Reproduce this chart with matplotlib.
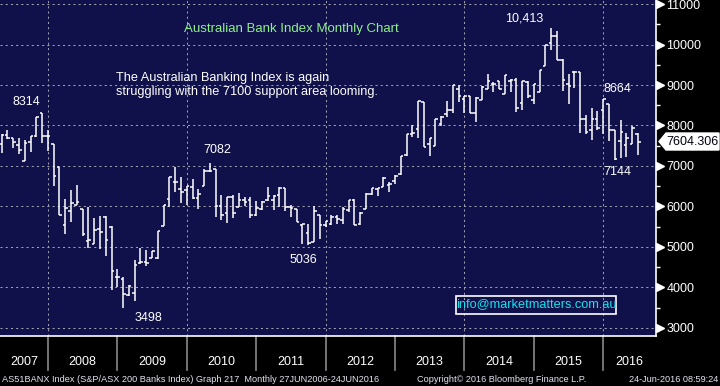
import matplotlib
matplotlib.use('Agg')
import matplotlib.pyplot as plt
import matplotlib.transforms as mtransforms
from matplotlib.patches import Polygon, Rectangle

# ---------------- data (monthly OHLC) ----------------
months = [
    '2007-04', '2007-05', '2007-06', '2007-07', '2007-08', '2007-09', '2007-10', '2007-11', '2007-12',
    '2008-01', '2008-02', '2008-03', '2008-04', '2008-05', '2008-06', '2008-07', '2008-08', '2008-09', '2008-10', '2008-11', '2008-12',
    '2009-01', '2009-02', '2009-03', '2009-04', '2009-05', '2009-06', '2009-07', '2009-08', '2009-09', '2009-10', '2009-11', '2009-12',
    '2010-01', '2010-02', '2010-03', '2010-04', '2010-05', '2010-06', '2010-07', '2010-08', '2010-09', '2010-10', '2010-11', '2010-12',
    '2011-01', '2011-02', '2011-03', '2011-04', '2011-05', '2011-06', '2011-07', '2011-08', '2011-09', '2011-10', '2011-11', '2011-12',
    '2012-01', '2012-02', '2012-03', '2012-04', '2012-05', '2012-06', '2012-07', '2012-08', '2012-09', '2012-10', '2012-11', '2012-12',
    '2013-01', '2013-02', '2013-03', '2013-04', '2013-05', '2013-06', '2013-07', '2013-08', '2013-09', '2013-10', '2013-11', '2013-12',
    '2014-01', '2014-02', '2014-03', '2014-04', '2014-05', '2014-06', '2014-07', '2014-08', '2014-09', '2014-10', '2014-11', '2014-12',
    '2015-01', '2015-02', '2015-03', '2015-04', '2015-05', '2015-06', '2015-07', '2015-08', '2015-09', '2015-10', '2015-11', '2015-12',
    '2016-01', '2016-02', '2016-03', '2016-04', '2016-05', '2016-06',
]
opens = [
    7550, 7760, 7680, 7527, 7135, 7600, 7730, 8310, 7730,
    7535, 6972, 5544, 5895, 6033, 5944, 5144, 5070, 5438, 5740, 5503, 4262,
    4205, 3805, 3854, 4602, 4618, 4715, 4715, 5512, 6177, 6597, 6424, 6400,
    6490, 6200, 6506, 6885, 6918, 6000, 5850, 6226, 5980, 6160, 6160, 5790,
    5940, 6150, 6150, 6290, 6460, 5990, 5940, 5550, 5340, 5120, 5795, 5530,
    5575, 5740, 5655, 5920, 6150, 5560, 5940, 6310, 6430, 6470, 6540, 6620,
    6800, 7270, 7800, 7910, 8580, 7540, 7490, 8030, 8290, 8390, 8900, 8660,
    8740, 8300, 8640, 8910, 9020, 9100, 8790, 9110, 9130, 8560, 9070, 8640,
    8830, 9460, 10030, 10200, 9620, 9030, 9320, 9320, 8150, 7890, 8150, 8390,
    8530, 7880, 7620, 7520, 7540, 7800,
]
highs = [
    7800, 7900, 7690, 7700, 7633, 7730, 8220, 8314, 7880,
    7535, 6972, 6180, 6409, 6523, 5944, 5985, 5723, 5764, 5756, 5527, 4450,
    4246, 4049, 4683, 4984, 4927, 4910, 5400, 6040, 6737, 6967, 6720, 6506,
    6670, 6424, 6930, 7082, 6918, 6284, 6243, 6284, 6325, 6226, 6226, 6144,
    6130, 6490, 6290, 6470, 6460, 6025, 5940, 5573, 5573, 6000, 5795, 5650,
    5800, 5780, 5985, 6165, 6190, 5860, 6330, 6460, 6460, 6740, 6600, 6770,
    7250, 7790, 8000, 8600, 8580, 7700, 8150, 8245, 8600, 9010, 9010, 8740,
    8740, 8710, 8970, 9260, 9070, 9110, 9240, 9160, 9180, 9090, 9110, 9030,
    9380, 10000, 10413, 10330, 9650, 9280, 9350, 9320, 8250, 8420, 8360, 8664,
    8530, 7880, 8140, 7820, 7980, 7820,
]
lows = [
    7320, 7665, 7445, 7306, 7127, 7347, 7715, 7567, 7363,
    6514, 5780, 5315, 5609, 6033, 5266, 4985, 5070, 4947, 4782, 3944, 4000,
    3498, 3789, 3667, 4585, 4536, 4715, 4700, 5512, 5980, 6366, 6078, 6037,
    6185, 5930, 6506, 6844, 5750, 5667, 5584, 5708, 5980, 6012, 5725, 5774,
    5918, 6140, 5918, 5980, 5900, 5740, 5614, 5065, 5036, 5120, 5200, 5500,
    5550, 5575, 5575, 5860, 5530, 5530, 5940, 6290, 6270, 6470, 6350, 6560,
    6780, 7250, 7720, 7700, 7475, 7250, 7490, 7990, 8210, 8310, 8580, 8300,
    8300, 8090, 8620, 8900, 8830, 8910, 8790, 8830, 8340, 8380, 8690, 8530,
    8830, 9460, 9870, 9620, 8850, 8540, 8930, 7820, 7800, 7650, 7880, 7800,
    7620, 7144, 7190, 7230, 7540, 7270,
]
closes = [
    7760, 7700, 7580, 7388, 7575, 7730, 8220, 7730, 7730,
    6743, 5780, 5960, 6090, 6100, 5315, 5168, 5430, 5380, 5168, 4417, 4246,
    3840, 4033, 4561, 4618, 4602, 4910, 5390, 6040, 6720, 6597, 6366, 6506,
    6200, 6300, 6885, 6885, 6021, 5800, 6226, 5830, 6160, 6120, 5790, 5955,
    6120, 6270, 6270, 6460, 5990, 5970, 5614, 5573, 5098, 5885, 5530, 5650,
    5740, 5700, 5940, 6150, 5530, 5835, 6310, 6460, 6460, 6700, 6550, 6760,
    7250, 7790, 7820, 8600, 7475, 7700, 8150, 8210, 8390, 8990, 8720, 8730,
    8300, 8690, 8950, 9110, 9020, 8910, 9240, 9130, 8440, 9090, 8720, 9030,
    9380, 10000, 10220, 9620, 9130, 8970, 9320, 8150, 7840, 8150, 7950, 8650,
    7880, 7160, 7840, 7700, 7950, 7604.306,
]
year_labels = ['2007', '2008', '2009', '2010', '2011', '2012', '2013', '2014', '2015', '2016']
y_ticks = [3000, 4000, 5000, 6000, 7000, 8000, 9000, 10000, 11000]
annotations = [('8314', 0.0396, 0.696), ('7082', 0.3316, 0.554), ('3498', 0.2256, 0.0545),
               ('5036', 0.4627, 0.2262), ('10,413', 0.7998, 0.9435), ('8664', 0.9405, 0.734),
               ('7144', 0.9405, 0.487)]

# ---------------- figure ----------------
W, H = 720, 386
plt.rcParams['font.family'] = ['Liberation Sans', 'DejaVu Sans']
fig = plt.figure(figsize=(W / 100, H / 100), dpi=100, facecolor='black')
ax_left, ax_right, ax_top, ax_bot = 0, 656, 0, 336
ax = fig.add_axes([ax_left / W, 1 - ax_bot / H, (ax_right - ax_left) / W, (ax_bot - ax_top) / H])
bg = '#10104a'
ax.set_facecolor(bg)

# month-end positions in fractional years
xs = [int(m[:4]) + int(m[5:]) / 12.0 for m in months]
xmin, xmax = 2007.31, 2016.76
ax.set_xlim(xmin, xmax)
ax.set_ylim(2800, 11100)

tick_w = 0.037
ax.vlines(xs, lows, highs, color='white', lw=1.1, zorder=3)
ax.hlines(opens, [x - tick_w for x in xs], xs, color='white', lw=1.1, zorder=3)
ax.hlines(closes, xs, [x + tick_w for x in xs], color='white', lw=1.1, zorder=3)

# grid
ax.set_yticks(y_ticks)
ax.set_yticks(list(range(3500, 11000, 1000)), minor=True)
ax.set_xticks([2008, 2010, 2012, 2014, 2016])
ax.set_xticklabels([])
ax.grid(True, which='major', color='#a0a0ac', lw=0.75, linestyle=(0, (2, 3)), zorder=1)
ax.tick_params(axis='x', length=0)
ax.yaxis.tick_right()
ax.tick_params(axis='y', which='major', length=0, pad=7.5, labelcolor='white', labelsize=9)
ax.tick_params(axis='y', which='minor', length=3, width=1, color='white', direction='out')
for sp in ['top', 'left']:
    ax.spines[sp].set_visible(False)
for sp in ['bottom', 'right']:
    ax.spines[sp].set_color('white')
    ax.spines[sp].set_linewidth(1.2)

# arrow markers at the major ticks
ybl = mtransforms.blended_transform_factory(ax.transAxes, ax.transData)
ax.plot([1.0 + 4 / 656] * len(y_ticks), y_ticks, linestyle='none', marker='>', ms=5.5,
        color='white', transform=ybl, clip_on=False, zorder=5)

# year labels and separators
xbl = mtransforms.blended_transform_factory(ax.transData, ax.transAxes)
for lab in year_labels:
    y0 = int(lab)
    c = (max(y0, xmin) + min(y0 + 1, xmax)) / 2
    ax.text(c, -26 / 336, lab, transform=xbl, ha='center', va='center', color='white', fontsize=9)
    if y0 > 2007:
        ax.plot([y0, y0], [0, -34 / 336], transform=xbl, color='#8a8a8a', lw=1.2, clip_on=False)

# texts
ax.text(0.444, 0.914, 'Australian Bank Index Monthly Chart', transform=ax.transAxes,
        ha='center', va='center', color='#8ef08e', fontsize=9.5)
ax.text(0.177, 0.747, 'The Australian Banking Index is again\nstruggling with the 7100 support area looming.',
        transform=ax.transAxes, ha='left', va='center', color='white', fontsize=9.2, linespacing=1.3)
for t, x, y in annotations:
    ax.text(x, y, t, transform=ax.transAxes, ha='center', va='center', color='white', fontsize=9)

# email box
ax.add_patch(Rectangle((456 / 656, (336 - 313.5) / 336), 160 / 656, 17.5 / 336, transform=ax.transAxes,
                       fill=False, ec='white', lw=1.2, zorder=6))
ax.text(536 / 656, (336 - 304.5) / 336, 'info@marketmatters.com.au', transform=ax.transAxes,
        ha='center', va='center', color='#19e3ee', fontsize=9.2, zorder=6)

# last price box
fig.canvas.draw()
last = closes[-1]
yp = ax.transData.transform((0, last))[1]
x0 = ax_right + 3
pts = [(x0, yp), (x0 + 7, yp + 8.5), (W - 1, yp + 8.5), (W - 1, yp - 8.5), (x0 + 7, yp - 8.5)]
fig.patches.append(Polygon([(px / W, py / (H)) for px, py in pts], closed=True, fc='white', ec='white',
                           transform=fig.transFigure, figure=fig))
fig.text((x0 + 7 + W - 1) / 2 / W, yp / H, f'{last:.3f}', ha='center', va='center',
         color='#000010', fontsize=9)

# footer
fc = '#e4e4f4'
fig.text(2 / W, 1 - 379 / H, 'AS51BANX Index (S&P/ASX 200 Banks Index) Graph 217  Monthly 27JUN2006-24JUN2016',
         ha='left', va='center', color=fc, fontsize=6.6)
fig.text(417 / W, 1 - 379 / H, 'Copyright\u00a9 2016 Bloomberg Finance L.P.', ha='left', va='center',
         color=fc, fontsize=6.6)
fig.text(718 / W, 1 - 379 / H, '24-Jun-2016 08:59:24', ha='right', va='center', color=fc, fontsize=6.6)

fig.savefig('out.png', dpi=100, facecolor='black')
